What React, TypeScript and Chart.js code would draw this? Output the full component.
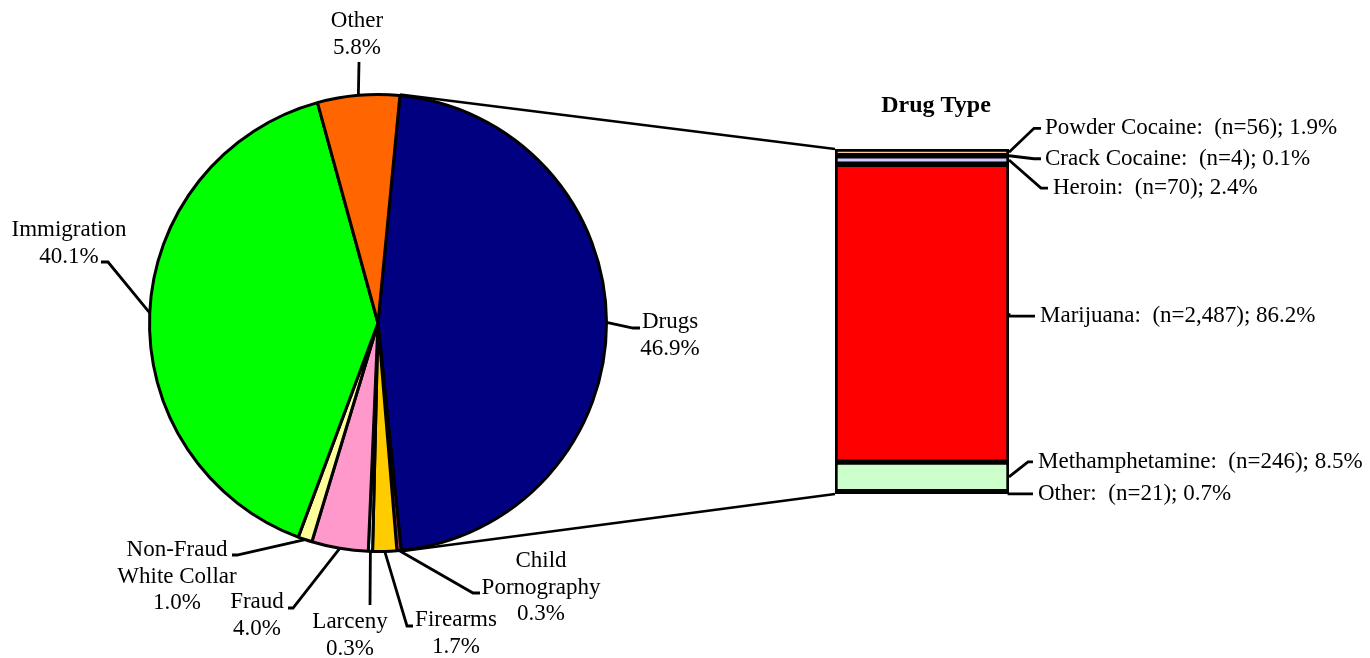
import React, { useEffect, useRef } from "react";
import { Chart, registerables } from "chart.js";

Chart.register(...registerables);

// ---------- Data ----------
const offenseNames = [
  "Drugs",
  "Child Pornography",
  "Firearms",
  "Larceny",
  "Fraud",
  "Non-Fraud White Collar",
  "Immigration",
  "Other",
];
const offenseLabelLines = [
  ["Drugs", "46.9%"],
  ["Child", "Pornography", "0.3%"],
  ["Firearms", "1.7%"],
  ["Larceny", "0.3%"],
  ["Fraud", "4.0%"],
  ["Non-Fraud", "White Collar", "1.0%"],
  ["Immigration", "40.1%"],
  ["Other", "5.8%"],
];
const offensePercents = [46.9, 0.3, 1.7, 0.3, 4.0, 1.0, 40.1, 5.8];
const offenseColors = [
  "#000080",
  "#993366",
  "#FFCC00",
  "#CCFFFF",
  "#FF99CC",
  "#FFFF99",
  "#00FF00",
  "#FF6600",
];

const drugTitle = "Drug Type";
const drugTypes = [
  "Powder Cocaine",
  "Crack Cocaine",
  "Heroin",
  "Marijuana",
  "Methamphetamine",
  "Other",
];
const drugCounts = [56, 4, 70, 2487, 246, 21];
const drugPercents = [1.9, 0.1, 2.4, 86.2, 8.5, 0.7];
const drugColors = ["#FFCC99", "#000000", "#CCCCFF", "#FF0000", "#CCFFCC", "#000000"];

// ---------- Layout (label placement only) ----------
// offsets relative to pie center: text center of first line, elbow point, tick end
const pieLabelLayout = [
  { tx: 292, ty: -1, ex: 255, ey: 5, hx: 262 },
  { tx: 163, ty: 238, ex: 95, ey: 270, hx: 102 },
  { tx: 78, ty: 297, ex: 29, ey: 303, hx: 35 },
  { tx: -28, ty: 299, ex: -8, ey: 282, hx: -8 },
  { tx: -121, ty: 279, ex: -85, ey: 285, hx: -90 },
  { tx: -201, ty: 227, ex: -141, ey: 232, hx: -146 },
  { tx: -309, ty: -93, ex: -270, ey: -61, hx: -277 },
  { tx: -21, ty: -302, ex: -19, ey: -261, hx: -19 },
];
// relative to bar right edge / segment middle
const barLabelLayout = [
  { dy: -24, elbow: 25, tick: 32, text: 36 },
  { dy: 3, elbow: 25, tick: 32, text: 36 },
  { dy: 28, elbow: 32, tick: 39, text: 44 },
  { dy: 3, elbow: 0, tick: 26, text: 31 },
  { dy: -15, elbow: 19, tick: 24, text: 29 },
  { dy: 1, elbow: 0, tick: 24, text: 29 },
];
const barBorderWidths = [3, 0, 3, 3, 3, 0];

const FONT = "23px 'Liberation Serif', 'Times New Roman', serif";
const LINE_H = 26.5;
const LEADER_W = 2.8;

export default function App() {
  const pieRef = useRef<HTMLCanvasElement | null>(null);
  const barRef = useRef<HTMLCanvasElement | null>(null);

  useEffect(() => {
    if (!pieRef.current || !barRef.current) return;

    const pieLabelsPlugin = {
      id: "pieLabels",
      afterDraw(chart: any) {
        const ctx = chart.ctx;
        const meta = chart.getDatasetMeta(0);
        ctx.save();
        ctx.font = FONT;
        ctx.fillStyle = "#000";
        ctx.strokeStyle = "#000";
        ctx.lineWidth = LEADER_W;
        ctx.textAlign = "center";
        ctx.textBaseline = "middle";
        meta.data.forEach((arc: any, i: number) => {
          const cx = arc.x;
          const cy = arc.y;
          const mid = (arc.startAngle + arc.endAngle) / 2;
          const r = arc.outerRadius;
          const px = cx + Math.cos(mid) * r;
          const py = cy + Math.sin(mid) * r;
          const L = pieLabelLayout[i];
          ctx.beginPath();
          ctx.moveTo(px, py);
          ctx.lineTo(cx + L.ex, cy + L.ey);
          ctx.lineTo(cx + L.hx, cy + L.ey);
          ctx.stroke();
          offenseLabelLines[i].forEach((line, k) => {
            ctx.fillText(line, cx + L.tx, cy + L.ty + k * LINE_H);
          });
        });
        ctx.restore();
      },
    };

    const pie = new Chart(pieRef.current, {
      type: "pie",
      data: {
        labels: offenseNames,
        datasets: [
          {
            data: offensePercents,
            backgroundColor: offenseColors,
            borderColor: "#000",
            borderWidth: 3,
          },
        ],
      },
      options: {
        responsive: false,
        animation: false,
        events: [],
        rotation: 5.5,
        layout: { padding: { left: 148, top: 93, right: 1370 - 148 - 460, bottom: 658 - 93 - 460 } },
        plugins: { legend: { display: false }, tooltip: { enabled: false } },
      },
      plugins: [pieLabelsPlugin],
    } as any);

    const barLabelsPlugin = {
      id: "barLabels",
      afterDraw(chart: any) {
        const ctx = chart.ctx;
        const n = drugTypes.length;
        ctx.save();
        ctx.strokeStyle = "#000";
        ctx.fillStyle = "#000";
        ctx.lineWidth = LEADER_W;

        // segments: datasets are bottom-to-top (reversed)
        const segs = drugTypes.map((_, i) => chart.getDatasetMeta(n - 1 - i).data[0] as any);
        const topEl = segs[0];
        const botEl = segs[n - 1];
        const left = topEl.x - topEl.width / 2;
        const right = topEl.x + topEl.width / 2;
        const top = Math.min(topEl.y, topEl.base);
        const bottom = Math.max(botEl.y, botEl.base);

        // title
        ctx.font = "bold 24px 'Liberation Serif', 'Times New Roman', serif";
        ctx.textAlign = "center";
        ctx.textBaseline = "middle";
        ctx.fillText(drugTitle, (left + right) / 2 + 14, top - 43);

        // labels
        ctx.font = FONT;
        ctx.textAlign = "left";
        segs.forEach((el: any, i: number) => {
          const midY = (el.y + el.base) / 2;
          const L = barLabelLayout[i];
          const ly = midY + L.dy;
          ctx.beginPath();
          ctx.moveTo(right, midY);
          ctx.lineTo(right + L.elbow, ly);
          ctx.lineTo(right + L.tick, ly);
          ctx.stroke();
          const txt = `${drugTypes[i]}:  (n=${drugCounts[i].toLocaleString("en-US")}); ${drugPercents[i].toFixed(1)}%`;
          ctx.fillText(txt, right + L.text, ly);
        });

        // connector lines from the Drugs slice to the bar
        const arc: any = pie.getDatasetMeta(0).data[0];
        if (arc) {
          const r = arc.outerRadius + 1;
          const sx = arc.x + Math.cos(arc.startAngle) * r;
          const sy = arc.y + Math.sin(arc.startAngle) * r;
          const exx = arc.x + Math.cos(arc.endAngle) * r;
          const eyy = arc.y + Math.sin(arc.endAngle) * r;
          ctx.lineWidth = 2.4;
          ctx.beginPath();
          ctx.moveTo(sx, sy);
          ctx.lineTo(left, top);
          ctx.moveTo(exx, eyy);
          ctx.lineTo(left, bottom);
          ctx.stroke();
        }
        ctx.restore();
      },
    };

    const stackTotal = drugPercents.reduce((a, b) => a + b, 0);
    const bar = new Chart(barRef.current, {
      type: "bar",
      data: {
        labels: [drugTitle],
        datasets: drugTypes
          .map((name, i) => ({
            label: name,
            data: [drugPercents[i]],
            backgroundColor: drugColors[i],
            borderColor: "#000",
            borderWidth: barBorderWidths[i],
            borderSkipped: false,
            categoryPercentage: 1,
            barPercentage: 1,
          }))
          .reverse(),
      },
      options: {
        responsive: false,
        animation: false,
        events: [],
        layout: { padding: { left: 835, top: 149, right: 1370 - 1009, bottom: 658 - 494 } },
        scales: {
          x: { stacked: true, display: false },
          y: { stacked: true, display: false, min: 0, max: stackTotal },
        },
        plugins: { legend: { display: false }, tooltip: { enabled: false } },
      },
      plugins: [barLabelsPlugin],
    } as any);

    return () => {
      bar.destroy();
      pie.destroy();
    };
  }, []);

  const canvasStyle: React.CSSProperties = {
    position: "absolute",
    left: 0,
    top: 0,
    width: 1370,
    height: 658,
  };

  return (
    <div style={{ position: "absolute", left: 0, top: 0, width: 1370, height: 658, background: "#fff" }}>
      <canvas ref={pieRef} width={1370} height={658} style={canvasStyle} />
      <canvas ref={barRef} width={1370} height={658} style={canvasStyle} />
    </div>
  );
}
